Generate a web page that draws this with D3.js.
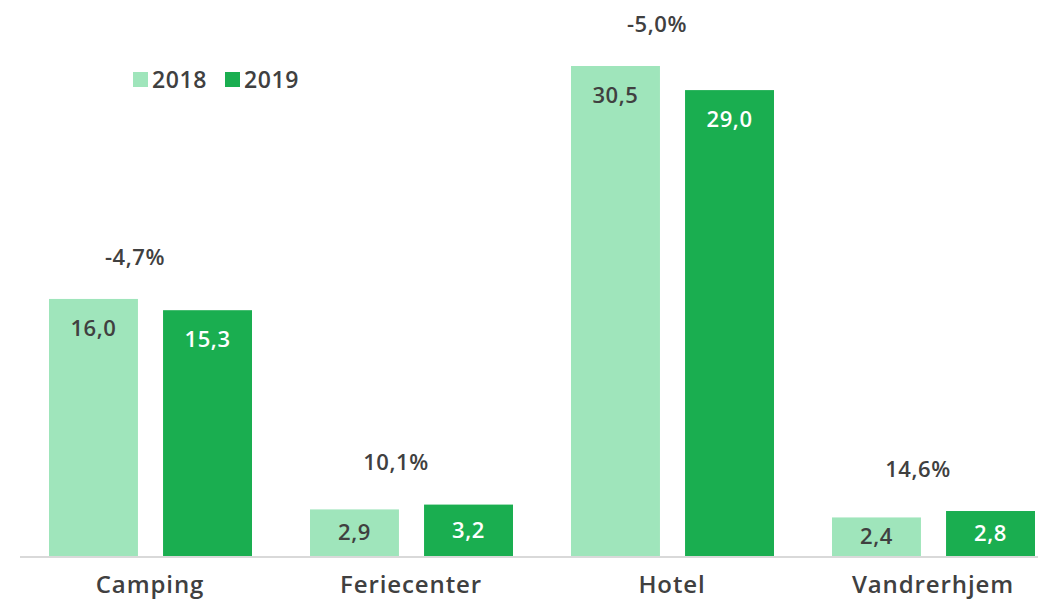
<!DOCTYPE html>
<html>
<head>
<meta charset="utf-8">
<script src="https://cdn.jsdelivr.net/npm/d3@7"></script>
<style>
  body { margin: 0; background: #fff; }
  svg { font-family: "Open Sans", sans-serif; }
</style>
</head>
<body>
<svg id="chart" width="1038" height="600"></svg>
<script>
// data
var categories = ["Camping", "Feriecenter", "Hotel", "Vandrerhjem"];
var years = ["2018", "2019"];
var values2018 = [16.0, 2.9, 30.5, 2.4];
var values2019 = [15.3, 3.2, 29.0, 2.8];
var changeLabels = ["-4,7%", "10,1%", "-5,0%", "14,6%"];

var colors = { "2018": "#9fe5bb", "2019": "#1aae50" };
var textDark = "#404040";

var svg = d3.select("#chart");
var base = 556;

var x0 = d3.scaleBand().domain(categories).range([19.5, 1063.5]).padding(0);
var x1 = d3.scaleBand().domain(years).range([29.5, 232.5]).paddingInner(0.22).paddingOuter(0);
var y = d3.scaleLinear().domain([0, 30.5]).range([base, 66]);

var fmt = function(v) { return v.toFixed(1).replace(".", ","); };

var rows = categories.map(function(c, i) {
  return { cat: c, vals: [ { year: "2018", v: values2018[i] }, { year: "2019", v: values2019[i] } ], change: changeLabels[i] };
});

// bars
var g = svg.selectAll("g.cat").data(rows).enter().append("g")
  .attr("class", "cat")
  .attr("transform", function(d) { return "translate(" + x0(d.cat) + ",0)"; });

g.selectAll("rect").data(function(d) { return d.vals; }).enter().append("rect")
  .attr("x", function(d) { return x1(d.year); })
  .attr("y", function(d) { return y(d.v); })
  .attr("width", x1.bandwidth())
  .attr("height", function(d) { return base - y(d.v); })
  .attr("fill", function(d) { return colors[d.year]; });

g.selectAll("text.val").data(function(d) { return d.vals; }).enter().append("text")
  .attr("class", "val")
  .attr("x", function(d) { return x1(d.year) + x1.bandwidth() / 2; })
  .attr("y", function(d) { var t = y(d.v); return Math.min(t + 29, (t + base) / 2); })
  .attr("dy", "0.35em")
  .attr("text-anchor", "middle")
  .attr("font-size", "22px")
  .attr("letter-spacing", "0.6px")
  .attr("font-weight", 600)
  .attr("fill", function(d) { return d.year == "2018" ? textDark : "#ffffff"; })
  .text(function(d) { return fmt(d.v); });

// change labels above the pair
g.append("text")
  .attr("x", x0.bandwidth() / 2 - 15)
  .attr("y", function(d) { return y(d3.max(d.vals, function(e) { return e.v; })) - 42; })
  .attr("dy", "0.35em")
  .attr("text-anchor", "middle")
  .attr("font-size", "22px")
  .attr("letter-spacing", "0.6px")
  .attr("font-weight", 600)
  .attr("fill", textDark)
  .text(function(d) { return d.change; });

// baseline
svg.append("line")
  .attr("x1", 20).attr("x2", 1038)
  .attr("y1", base + 1).attr("y2", base + 1)
  .attr("stroke", "#d9d9d9").attr("stroke-width", 2);

// category axis
var xAxis = d3.axisBottom(x0).tickSize(0).tickPadding(0);
var ax = svg.append("g").attr("transform", "translate(0," + (base + 29) + ")").call(xAxis);
ax.select(".domain").remove();
ax.selectAll("text")
  .attr("dy", "0.35em")
  .attr("font-family", "Open Sans, sans-serif")
  .attr("font-size", "24px")
  .attr("letter-spacing", "0.9px")
  .attr("font-weight", 600)
  .attr("fill", textDark);

// legend
var leg = svg.append("g").attr("transform", "translate(133,80)");
var li = leg.selectAll("g").data(years).enter().append("g")
  .attr("transform", function(d, i) { return "translate(" + (i * 92) + ",0)"; });
li.append("rect").attr("x", 0).attr("y", -8).attr("width", 15).attr("height", 15)
  .attr("fill", function(d) { return colors[d]; });
li.append("text").attr("x", 19).attr("y", 0).attr("dy", "0.35em")
  .attr("font-size", "23px").attr("letter-spacing", "0.6px").attr("font-weight", 600).attr("fill", textDark)
  .text(function(d) { return d; });
</script>
</body>
</html>
